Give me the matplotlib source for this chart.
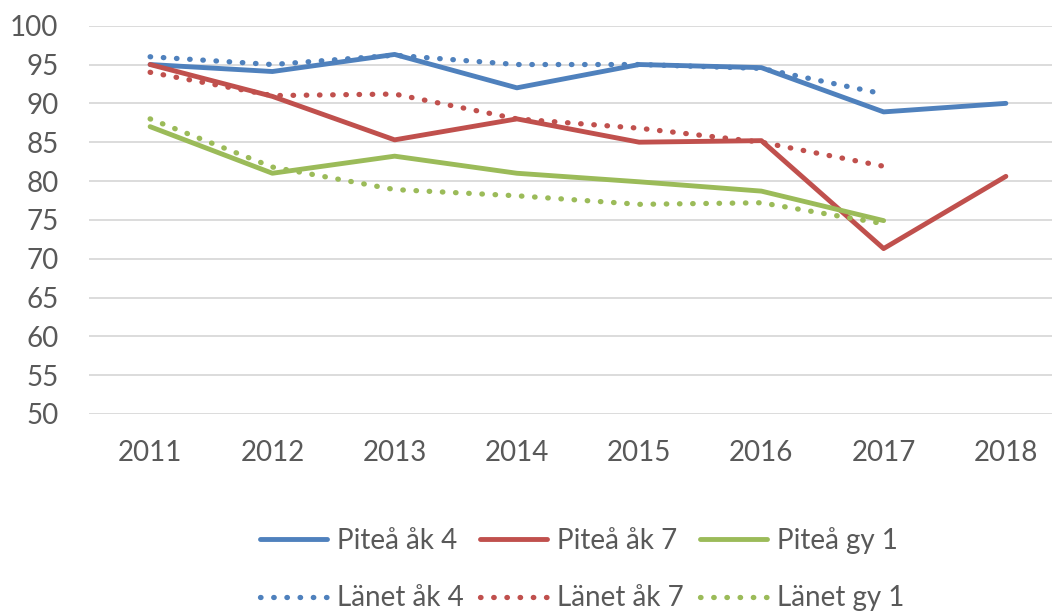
import numpy as np
import matplotlib
matplotlib.use('Agg')
import matplotlib.pyplot as plt

plt.rcParams['font.family'] = ['Lato', 'DejaVu Sans']

years = ['2011', '2012', '2013', '2014', '2015', '2016', '2017', '2018']

pitea_ak4 = [95.0, 94.1, 96.3, 92.0, 95.0, 94.6, 88.9, 90.0]
pitea_ak7 = [95.0, 90.9, 85.3, 88.0, 85.0, 85.2, 71.3, 80.6]
pitea_gy1 = [87.0, 81.0, 83.2, 81.0, 79.9, 78.7, 74.9]
lanet_ak4 = [96.0, 95.0, 96.2, 95.0, 95.0, 94.5, 91.2]
lanet_ak7 = [94.0, 91.0, 91.2, 88.0, 86.8, 85.0, 81.9]
lanet_gy1 = [88.0, 81.8, 78.9, 78.1, 77.0, 77.2, 74.5]

blue = '#4F81BD'
red = '#C0504D'
green = '#9BBB59'
txt = '#595959'

fig = plt.figure(figsize=(10.52, 6.12), dpi=100)
# plot area runs past the right edge (chart was cropped)
ax = fig.add_axes([89/1052, 1-414/612, (1067-89)/1052, (414-25.7)/612])

x = np.arange(len(years))
dots = (0, (0.1, 2.4))

h1, = ax.plot(x[:len(pitea_ak4)], pitea_ak4, color=blue, lw=3.5, solid_capstyle='round', label='Piteå åk 4')
h2, = ax.plot(x[:len(pitea_ak7)], pitea_ak7, color=red, lw=3.5, solid_capstyle='round', label='Piteå åk 7')
h3, = ax.plot(x[:len(pitea_gy1)], pitea_gy1, color=green, lw=3.5, solid_capstyle='round', label='Piteå gy 1')
h4, = ax.plot(x[:len(lanet_ak4)], lanet_ak4, color=blue, lw=3.8, linestyle=dots, dash_capstyle='round', label='Länet åk 4')
h5, = ax.plot(x[:len(lanet_ak7)], lanet_ak7, color=red, lw=3.8, linestyle=dots, dash_capstyle='round', label='Länet åk 7')
h6, = ax.plot(x[:len(lanet_gy1)], lanet_gy1, color=green, lw=3.8, linestyle=dots, dash_capstyle='round', label='Länet gy 1')

ax.set_xlim(-0.5, len(years) - 0.5)
ax.set_ylim(50, 100)
ax.set_yticks(np.arange(50, 101, 5))
ax.set_xticks(x)
ax.set_xticklabels(years)
ax.grid(axis='y', color='#d9d9d9', lw=1.3)
ax.set_axisbelow(True)
for s in ax.spines.values():
    s.set_visible(False)
ax.tick_params(axis='both', length=0, labelsize=20, labelcolor=txt)
ax.tick_params(axis='y', pad=22)
ax.tick_params(axis='x', pad=19)

# legend fills column by column, so interleave to get the rows right
leg = fig.legend(handles=[h1, h4, h2, h5, h3, h6], ncol=3, loc='center',
                 bbox_to_anchor=(582/1052, 1-569/612), frameon=False,
                 fontsize=20, handlelength=2.4, handletextpad=0.36,
                 columnspacing=0.6, labelspacing=1.15, borderpad=0)
for t in leg.get_texts():
    t.set_color(txt)

fig.savefig('out.png', dpi=100)
